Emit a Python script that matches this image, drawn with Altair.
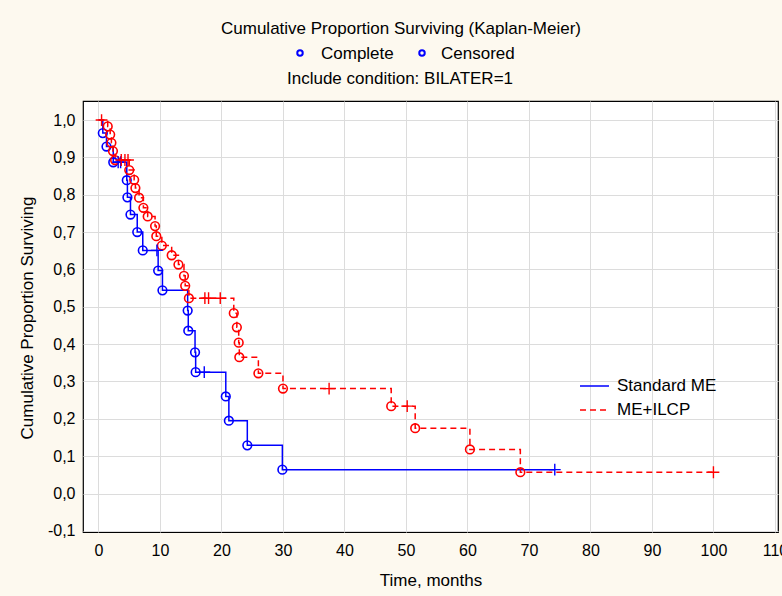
import altair as alt
import pandas as pd

# ---------------- data ----------------
groups = ["Standard ME", "ME+ILCP"]
colors = ["#0000FF", "#FF0000"]
dashes = [[1, 0], [6, 4]]

std_event_t = [0.7, 1.3, 2.4, 4.6, 4.7, 5.2, 6.3, 7.2, 9.7, 10.4, 14.5, 14.6,
               15.7, 15.8, 20.7, 21.2, 24.2, 29.9]
std_event_s = [0.965, 0.929, 0.887, 0.839, 0.793, 0.747, 0.700, 0.651, 0.597,
               0.544, 0.490, 0.436, 0.378, 0.325, 0.260, 0.195, 0.129, 0.064]
std_cens_t = [3.2, 3.6, 9.5, 17.2, 74.2]
std_cens_s = [0.887, 0.887, 0.651, 0.325, 0.064]

ilcp_event_t = [1.5, 1.9, 2.1, 2.35, 2.7, 5.0, 5.8, 6.0, 6.6, 7.3, 8.0, 9.2,
                9.4, 10.3, 11.9, 13.0, 13.9, 14.1, 14.7, 22.0, 22.5, 22.8,
                22.9, 26.0, 30.0, 47.6, 51.5, 60.4, 68.6]
ilcp_event_s = [0.983, 0.961, 0.939, 0.917, 0.893, 0.866, 0.840, 0.818, 0.792,
                0.765, 0.742, 0.716, 0.689, 0.664, 0.638, 0.613, 0.583, 0.556,
                0.523, 0.483, 0.445, 0.404, 0.365, 0.322, 0.281, 0.234, 0.175,
                0.118, 0.057]
ilcp_cens_t = [0.5, 3.7, 4.3, 4.8, 17.3, 17.9, 19.8, 37.5, 50.2, 100.0]
ilcp_cens_s = [1.0, 0.893, 0.893, 0.893, 0.523, 0.523, 0.523, 0.281, 0.234, 0.057]

x_ticks = list(range(0, 111, 10))
y_ticks = [round(-0.1 + 0.1 * i, 1) for i in range(12)]

title_text = "Cumulative Proportion Surviving (Kaplan-Meier)"
subtitle_text = "Include condition: BILATER=1"
marker_labels = ["Complete", "Censored"]
x_title = "Time, months"
y_title = "Cumulative Proportion Surviving"

# ---------------- tables ----------------
series = [
    (groups[0], std_event_t, std_event_s, std_cens_t, std_cens_s),
    (groups[1], ilcp_event_t, ilcp_event_s, ilcp_cens_t, ilcp_cens_s),
]
line_rows, event_rows, cens_rows = [], [], []
for g, et, es, ct, cs in series:
    pts = [(0.0, 1.0)] + list(zip(et, es)) + list(zip(ct, cs))
    pts.sort(key=lambda p: (p[0], -p[1]))
    for i, (t, s) in enumerate(pts):
        line_rows.append({"group": g, "t": t, "s": s, "order": i})
    for t, s in zip(et, es):
        event_rows.append({"group": g, "t": t, "s": s})
    for t, s in zip(ct, cs):
        cens_rows.append({"group": g, "t": t, "s": s})

lines_df = pd.DataFrame(line_rows)
events_df = pd.DataFrame(event_rows)
cens_df = pd.DataFrame(cens_rows)

FONT = "Liberation Sans"
W, H = 695, 431

xscale = alt.Scale(domain=[-2.52, 110.5], nice=False, zero=False)
yscale = alt.Scale(domain=[-0.103, 1.051], nice=False, zero=False)
cscale = alt.Scale(domain=groups, range=colors)
dscale = alt.Scale(domain=groups, range=dashes)

x_axis = alt.Axis(values=x_ticks, title=x_title, format="d",
                  labelFlush=False, labelOverlap=False, titlePadding=14)
y_axis = alt.Axis(values=y_ticks, title=y_title, labelOverlap=False, labelSeparation=0,
                  labelExpr="replace(replace(format(datum.value, '.1f'), '.', ','), '\u2212', '-')",
                  titleX=-56, titleY=H / 2 + 1, titleBaseline="middle",
                  titleAlign="center")

x_enc = alt.X("t:Q", scale=xscale, axis=x_axis)
y_enc = alt.Y("s:Q", scale=yscale, axis=y_axis)

lines = alt.Chart(lines_df).mark_line(interpolate="step-after", strokeWidth=1.5).encode(
    x=x_enc, y=y_enc,
    color=alt.Color("group:N", scale=cscale, legend=None),
    strokeDash=alt.StrokeDash("group:N", scale=dscale, legend=None),
    order="order:Q",
)

events = alt.Chart(events_df).mark_point(shape="circle", filled=False, size=75,
                                         strokeWidth=1.6, opacity=1).encode(
    x=x_enc, y=y_enc, color=alt.Color("group:N", scale=cscale, legend=None))

cens = alt.Chart(cens_df).mark_point(shape="M-1,0H1M0,-1V1", filled=False, size=140,
                                     strokeWidth=1.4, opacity=1).encode(
    x=x_enc, y=y_enc, color=alt.Color("group:N", scale=cscale, legend=None))

# ---------------- header texts ----------------
hdr = alt.Chart(pd.DataFrame({"txt": [title_text]})).mark_text(
    font=FONT, fontSize=17, color="black", baseline="middle", align="center").encode(
    text="txt:N", x=alt.value(318), y=alt.value(-72))

sub = alt.Chart(pd.DataFrame({"txt": [subtitle_text]})).mark_text(
    font=FONT, fontSize=17, color="black", baseline="middle", align="center").encode(
    text="txt:N", x=alt.value(317), y=alt.value(-22))

mk1 = alt.Chart(pd.DataFrame({"txt": [marker_labels[0]]})).mark_text(
    font=FONT, fontSize=17, color="black", baseline="middle", align="left").encode(
    text="txt:N", x=alt.value(238), y=alt.value(-47))
mk2 = alt.Chart(pd.DataFrame({"txt": [marker_labels[1]]})).mark_text(
    font=FONT, fontSize=17, color="black", baseline="middle", align="left").encode(
    text="txt:N", x=alt.value(358), y=alt.value(-47))
mc1 = alt.Chart(pd.DataFrame({"a": [0]})).mark_point(
    shape="circle", filled=False, size=30, strokeWidth=2, color=colors[0], opacity=1).encode(
    x=alt.value(217), y=alt.value(-48))
mc2 = alt.Chart(pd.DataFrame({"a": [0]})).mark_point(
    shape="circle", filled=False, size=30, strokeWidth=2, color=colors[0], opacity=1).encode(
    x=alt.value(339), y=alt.value(-48))

# ---------------- series legend (inside plot) ----------------
leg_layers = []
for i, g in enumerate(groups):
    yy = 285 + 24 * i
    leg_layers.append(
        alt.Chart(pd.DataFrame({"g": [g]})).mark_rule(
            color=colors[i], strokeWidth=1.5, strokeDash=dashes[i]).encode(
            x=alt.value(497), x2=alt.value(526), y=alt.value(yy)))
    leg_layers.append(
        alt.Chart(pd.DataFrame({"g": [g]})).mark_text(
            font=FONT, fontSize=17, color="black", align="left", baseline="middle").encode(
            text="g:N", x=alt.value(534), y=alt.value(yy)))

chart = alt.layer(lines, events, cens, hdr, sub, mk1, mk2, mc1, mc2, *leg_layers).properties(
    width=W, height=H,
    autosize=alt.AutoSizeParams(type="none"),
    padding={"left": 83, "top": 101, "right": 4, "bottom": 64},
    background="#FDF9EF",
).configure_view(
    fill="white", stroke="black", strokeWidth=1.2,
).configure_axis(
    grid=True, gridColor="#DCDCDC", gridWidth=1, domain=False, ticks=False,
    labelFont=FONT, labelFontSize=16, labelColor="black", labelPadding=8,
    labelOverlap=False,
    titleFont=FONT, titleFontSize=17, titleFontWeight="normal", titleColor="black",
).configure_axisX(labelPadding=10).configure_axisY(labelOverlap=False)

chart.save("out.html", embed_options={"renderer": "svg", "actions": False})
